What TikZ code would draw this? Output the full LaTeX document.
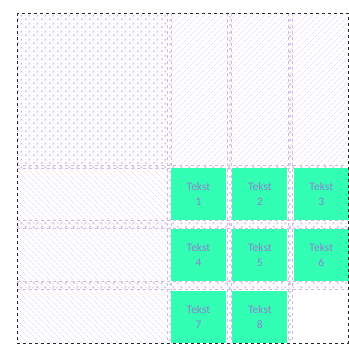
\documentclass[tikz,border=0pt]{standalone}
\usepackage{fontspec}
\usepackage{tikz}
\usetikzlibrary{positioning, patterns, patterns.meta}
\newfontfamily\cellfont{Carlito}
\definecolor{cellgreen}{HTML}{33FFB4}
\definecolor{celltext}{HTML}{8C80D2}
\definecolor{gridline}{HTML}{CDBCE0}
\definecolor{hatchline}{HTML}{DCD0EA}

\pgfdeclarepatternformonly{xdots}{\pgfpointorigin}{\pgfpoint{8pt}{8pt}}{\pgfpoint{8pt}{8pt}}{
  \pgfsetlinewidth{0.5pt}
  \pgfpathmoveto{\pgfpoint{1pt}{1pt}}\pgfpathlineto{\pgfpoint{3pt}{3pt}}
  \pgfpathmoveto{\pgfpoint{1pt}{3pt}}\pgfpathlineto{\pgfpoint{3pt}{1pt}}
  \pgfpathmoveto{\pgfpoint{5pt}{5pt}}\pgfpathlineto{\pgfpoint{7pt}{7pt}}
  \pgfpathmoveto{\pgfpoint{5pt}{7pt}}\pgfpathlineto{\pgfpoint{7pt}{5pt}}
  \pgfusepath{stroke}
  \pgfpathcircle{\pgfpoint{6pt}{2pt}}{0.5pt}
  \pgfpathcircle{\pgfpoint{2pt}{6pt}}{0.5pt}
  \pgfusepath{fill}
}

\begin{document}
\begin{tikzpicture}[
  x=1pt, y=-1pt,
  cell/.style={fill=cellgreen, text=celltext, inner sep=0pt,
               minimum width=55pt, minimum height=52pt, align=center,
               font=\cellfont\fontsize{11.5}{15}\selectfont},
  track/.style={pattern color=gridline},
  hatch/.style={pattern color=hatchline},
  gridrule/.style={draw=gridline, dashed, line width=0.5pt},
]
  \useasboundingbox (0,0) rectangle (349,349);

  % Track areas (patterned)
  \fill[track, pattern=xdots] (17,13) rectangle (167,165);
  \fill[hatch, pattern={Lines[angle=45, distance=4pt, line width=0.4pt]}]
    (171,13) rectangle (348,165);
  \fill[hatch, pattern={Lines[angle=-45, distance=4pt, line width=0.4pt]}]
    (17,168) rectangle (167,343);

  % Gutters
  \fill[track, pattern=xdots] (17,165) rectangle (348,168);
  \fill[track, pattern=xdots] (171,220) rectangle (348,228);
  \fill[track, pattern=xdots] (17,220) rectangle (167,228);
  \fill[track, pattern=xdots] (171,281) rectangle (348,289);
  \fill[track, pattern=xdots] (17,281) rectangle (167,289);
  \fill[track, pattern=xdots] (167,13) rectangle (171,343);
  \fill[track, pattern=xdots] (227,13) rectangle (231,343);
  \fill[track, pattern=xdots] (288,13) rectangle (292,343);

  % Grid lines
  \draw[gridrule] (167,13) -- (167,343);
  \draw[gridrule] (171,13) -- (171,343);
  \draw[gridrule] (227,13) -- (227,343);
  \draw[gridrule] (231,13) -- (231,343);
  \draw[gridrule] (288,13) -- (288,343);
  \draw[gridrule] (292,13) -- (292,343);
  \draw[gridrule] (17,165) -- (348,165);
  \draw[gridrule] (17,168) -- (348,168);
  \draw[gridrule] (17,220) -- (348,220);
  \draw[gridrule] (17,228) -- (348,228);
  \draw[gridrule] (17,281) -- (348,281);
  \draw[gridrule] (17,289) -- (348,289);

  % Empty last cell
  \fill[white] (293,290) rectangle (348,343);

  % Items
  \node[cell] (t1) at (198.5,194) {Tekst\\1};
  \node[cell, right=6pt of t1] (t2) {Tekst\\2};
  \node[cell, right=6pt of t2] (t3) {Tekst\\3};
  \node[cell, below=9pt of t1] (t4) {Tekst\\4};
  \node[cell, right=6pt of t4] (t5) {Tekst\\5};
  \node[cell, right=6pt of t5] (t6) {Tekst\\6};
  \node[cell, below=9pt of t4] (t7) {Tekst\\7};
  \node[cell, right=6pt of t7] (t8) {Tekst\\8};

  % Container
  \draw[black!85, dashed, line width=1pt] (17,13) rectangle (348,343);
\end{tikzpicture}
\end{document}
